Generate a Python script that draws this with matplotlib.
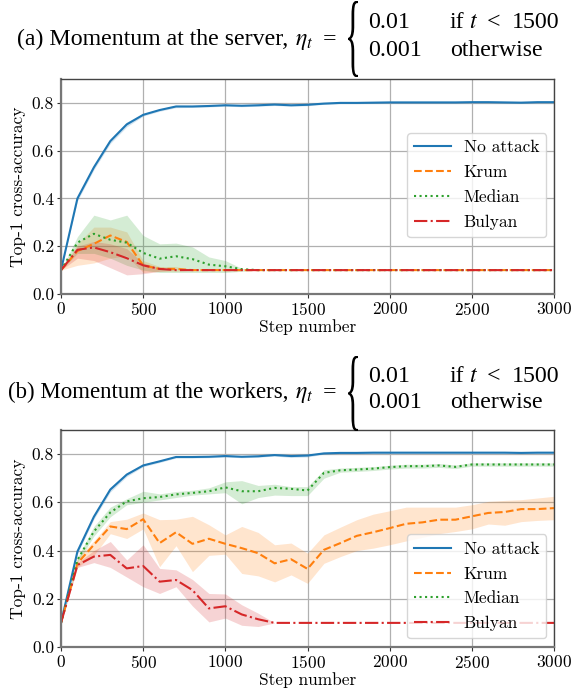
import numpy as np
import matplotlib
matplotlib.use('Agg')
import matplotlib.pyplot as plt
from matplotlib.textpath import TextPath
from matplotlib.patches import PathPatch
from matplotlib.font_manager import FontProperties
from matplotlib.transforms import Affine2D, IdentityTransform

# step numbers (x axis), one point every 100 steps
steps = [0, 100, 200, 300, 400, 500, 600, 700, 800, 900, 1000,
         1100, 1200, 1300, 1400, 1500, 1600, 1700, 1800, 1900, 2000,
         2100, 2200, 2300, 2400, 2500, 2600, 2700, 2800, 2900, 3000]

labels = ['No attack', 'Krum', 'Median', 'Bulyan']

# ---- (a) momentum at the server ----
a_noattack = [0.10, 0.40, 0.53, 0.64, 0.71, 0.75, 0.77, 0.785, 0.785, 0.787, 0.79,
              0.788, 0.79, 0.793, 0.79, 0.792, 0.797, 0.80, 0.80, 0.801, 0.802,
              0.802, 0.802, 0.802, 0.802, 0.803, 0.803, 0.802, 0.801, 0.803, 0.803]
a_noattack_lo = [0.10, 0.39, 0.52, 0.63, 0.70, 0.745, 0.765, 0.78, 0.781, 0.783, 0.786,
                 0.784, 0.786, 0.789, 0.786, 0.788, 0.794, 0.797, 0.797, 0.798, 0.799,
                 0.799, 0.799, 0.799, 0.799, 0.800, 0.800, 0.799, 0.798, 0.800, 0.800]
a_noattack_hi = [0.10, 0.41, 0.54, 0.65, 0.72, 0.755, 0.775, 0.79, 0.789, 0.791, 0.794,
                 0.792, 0.794, 0.797, 0.794, 0.796, 0.800, 0.803, 0.803, 0.804, 0.805,
                 0.805, 0.805, 0.805, 0.805, 0.806, 0.806, 0.805, 0.804, 0.806, 0.806]

a_krum = [0.10, 0.18, 0.21, 0.245, 0.218, 0.12, 0.105, 0.105, 0.10, 0.10, 0.10,
          0.10, 0.10, 0.10, 0.10, 0.10, 0.10, 0.10, 0.10, 0.10, 0.10,
          0.10, 0.10, 0.10, 0.10, 0.10, 0.10, 0.10, 0.10, 0.10, 0.10]
a_krum_lo = [0.10, 0.12, 0.13, 0.15, 0.16, 0.09, 0.095, 0.095, 0.10, 0.10, 0.10,
             0.10, 0.10, 0.10, 0.10, 0.10, 0.10, 0.10, 0.10, 0.10, 0.10,
             0.10, 0.10, 0.10, 0.10, 0.10, 0.10, 0.10, 0.10, 0.10, 0.10]
a_krum_hi = [0.10, 0.21, 0.28, 0.28, 0.26, 0.14, 0.115, 0.115, 0.10, 0.10, 0.10,
             0.10, 0.10, 0.10, 0.10, 0.10, 0.10, 0.10, 0.10, 0.10, 0.10,
             0.10, 0.10, 0.10, 0.10, 0.10, 0.10, 0.10, 0.10, 0.10, 0.10]

a_median = [0.10, 0.215, 0.252, 0.227, 0.215, 0.172, 0.148, 0.158, 0.146, 0.123, 0.116,
            0.104, 0.10, 0.10, 0.10, 0.10, 0.10, 0.10, 0.10, 0.10, 0.10,
            0.10, 0.10, 0.10, 0.10, 0.10, 0.10, 0.10, 0.10, 0.10, 0.10]
a_median_lo = [0.10, 0.17, 0.17, 0.15, 0.12, 0.10, 0.09, 0.09, 0.09, 0.09, 0.09,
               0.095, 0.10, 0.10, 0.10, 0.10, 0.10, 0.10, 0.10, 0.10, 0.10,
               0.10, 0.10, 0.10, 0.10, 0.10, 0.10, 0.10, 0.10, 0.10, 0.10]
a_median_hi = [0.10, 0.24, 0.33, 0.31, 0.33, 0.245, 0.21, 0.213, 0.197, 0.155, 0.14,
               0.107, 0.10, 0.10, 0.10, 0.10, 0.10, 0.10, 0.10, 0.10, 0.10,
               0.10, 0.10, 0.10, 0.10, 0.10, 0.10, 0.10, 0.10, 0.10, 0.10]

a_bulyan = [0.10, 0.185, 0.195, 0.175, 0.15, 0.12, 0.105, 0.10, 0.10, 0.10, 0.10,
            0.10, 0.10, 0.10, 0.10, 0.10, 0.10, 0.10, 0.10, 0.10, 0.10,
            0.10, 0.10, 0.10, 0.10, 0.10, 0.10, 0.10, 0.10, 0.10, 0.10]
a_bulyan_lo = [0.10, 0.15, 0.14, 0.11, 0.08, 0.085, 0.095, 0.10, 0.10, 0.10, 0.10,
               0.10, 0.10, 0.10, 0.10, 0.10, 0.10, 0.10, 0.10, 0.10, 0.10,
               0.10, 0.10, 0.10, 0.10, 0.10, 0.10, 0.10, 0.10, 0.10, 0.10]
a_bulyan_hi = [0.10, 0.20, 0.22, 0.21, 0.19, 0.13, 0.11, 0.10, 0.10, 0.10, 0.10,
               0.10, 0.10, 0.10, 0.10, 0.10, 0.10, 0.10, 0.10, 0.10, 0.10,
               0.10, 0.10, 0.10, 0.10, 0.10, 0.10, 0.10, 0.10, 0.10, 0.10]

# ---- (b) momentum at the workers ----
b_noattack = [0.10, 0.396, 0.54, 0.653, 0.715, 0.753, 0.77, 0.788, 0.788, 0.789, 0.792,
              0.789, 0.791, 0.796, 0.792, 0.794, 0.803, 0.805, 0.805, 0.806, 0.806,
              0.806, 0.806, 0.806, 0.806, 0.806, 0.806, 0.806, 0.805, 0.806, 0.806]
b_noattack_lo = [0.10, 0.386, 0.53, 0.643, 0.707, 0.748, 0.765, 0.784, 0.784, 0.785, 0.788,
                 0.785, 0.787, 0.792, 0.786, 0.788, 0.800, 0.802, 0.802, 0.803, 0.803,
                 0.803, 0.803, 0.803, 0.803, 0.803, 0.803, 0.803, 0.802, 0.803, 0.803]
b_noattack_hi = [0.10, 0.406, 0.55, 0.663, 0.723, 0.758, 0.775, 0.792, 0.792, 0.793, 0.796,
                 0.793, 0.795, 0.800, 0.798, 0.800, 0.806, 0.808, 0.808, 0.809, 0.809,
                 0.809, 0.809, 0.809, 0.809, 0.809, 0.809, 0.809, 0.808, 0.809, 0.809]

b_krum = [0.10, 0.347, 0.424, 0.50, 0.489, 0.53, 0.431, 0.476, 0.428, 0.449, 0.428,
          0.41, 0.389, 0.347, 0.364, 0.324, 0.403, 0.431, 0.461, 0.476, 0.493,
          0.511, 0.517, 0.528, 0.528, 0.542, 0.556, 0.56, 0.572, 0.572, 0.576]
b_krum_lo = [0.10, 0.33, 0.38, 0.47, 0.45, 0.49, 0.333, 0.42, 0.3125, 0.38, 0.385,
             0.305, 0.295, 0.27, 0.299, 0.264, 0.347, 0.375, 0.40, 0.41, 0.424,
             0.44, 0.455, 0.47, 0.479, 0.49, 0.51, 0.505, 0.52, 0.525, 0.528]
b_krum_hi = [0.10, 0.37, 0.44, 0.52, 0.53, 0.556, 0.528, 0.53, 0.542, 0.507, 0.465,
             0.50, 0.475, 0.424, 0.431, 0.389, 0.465, 0.497, 0.528, 0.551, 0.565,
             0.58, 0.58, 0.58, 0.58, 0.59, 0.604, 0.608, 0.611, 0.618, 0.625]

b_median = [0.10, 0.361, 0.479, 0.558, 0.604, 0.617, 0.622, 0.633, 0.639, 0.646, 0.662,
            0.646, 0.646, 0.66, 0.656, 0.649, 0.722, 0.733, 0.736, 0.74, 0.746,
            0.75, 0.75, 0.753, 0.747, 0.757, 0.757, 0.757, 0.757, 0.757, 0.757]
b_median_lo = [0.10, 0.35, 0.46, 0.54, 0.59, 0.60, 0.61, 0.62, 0.63, 0.635, 0.64,
               0.594, 0.62, 0.63, 0.628, 0.628, 0.70, 0.725, 0.728, 0.732, 0.738,
               0.742, 0.742, 0.745, 0.74, 0.75, 0.75, 0.75, 0.75, 0.75, 0.75]
b_median_hi = [0.10, 0.37, 0.50, 0.58, 0.615, 0.646, 0.635, 0.645, 0.65, 0.66, 0.685,
               0.69, 0.67, 0.675, 0.665, 0.665, 0.735, 0.742, 0.745, 0.748, 0.754,
               0.758, 0.758, 0.761, 0.755, 0.764, 0.764, 0.764, 0.764, 0.764, 0.764]

b_bulyan = [0.10, 0.34, 0.375, 0.382, 0.326, 0.336, 0.271, 0.278, 0.236, 0.16, 0.169,
            0.135, 0.115, 0.10, 0.10, 0.10, 0.10, 0.10, 0.10, 0.10, 0.10,
            0.10, 0.10, 0.10, 0.10, 0.10, 0.10, 0.10, 0.10, 0.10, 0.10]
b_bulyan_lo = [0.10, 0.33, 0.35, 0.33, 0.29, 0.25, 0.222, 0.25, 0.17, 0.104, 0.12,
               0.09, 0.085, 0.10, 0.10, 0.10, 0.10, 0.10, 0.10, 0.10, 0.10,
               0.10, 0.10, 0.10, 0.10, 0.10, 0.10, 0.10, 0.10, 0.10, 0.10]
b_bulyan_hi = [0.10, 0.35, 0.40, 0.4375, 0.361, 0.424, 0.326, 0.32, 0.28, 0.222, 0.22,
               0.175, 0.14, 0.10, 0.10, 0.10, 0.10, 0.10, 0.10, 0.10, 0.10,
               0.10, 0.10, 0.10, 0.10, 0.10, 0.10, 0.10, 0.10, 0.10, 0.10]

colors = ['#1f77b4', '#ff7f0e', '#2ca02c', '#d62728']
styles = ['-', '--', ':', '-.']

plt.rcParams['font.family'] = 'cmr10'
plt.rcParams['axes.formatter.use_mathtext'] = True
plt.rcParams['mathtext.fontset'] = 'cm'

W, H = 573, 691
FS = 12.5
fig = plt.figure(figsize=(W / 100, H / 100), dpi=100)


def px_axes(left, top, right, bottom):
    # axes rectangle from pixel edges (origin top-left)
    return fig.add_axes([left / W, 1 - bottom / H, (right - left) / W, (bottom - top) / H])


def draw_panel(ax, series, legend_anchor):
    for (mean, lo, hi), lab, c, ls in zip(series, labels, colors, styles):
        ax.fill_between(steps, lo, hi, color=c, alpha=0.2, linewidth=0)
        ax.plot(steps, mean, color=c, linestyle=ls, linewidth=1.5, label=lab)
    ax.set_xlim(0, 3000)
    ax.set_ylim(0, 0.9)
    ax.set_xticks([0, 500, 1000, 1500, 2000, 2500, 3000])
    ax.set_yticks([0.0, 0.2, 0.4, 0.6, 0.8])
    ax.set_yticklabels(['0.0', '0.2', '0.4', '0.6', '0.8'])
    ax.grid(True, color='#b0b0b0', linewidth=0.9)
    ax.set_axisbelow(True)
    ax.tick_params(labelsize=FS, direction='out', length=3, color='#333333', pad=2)
    for side in ['top', 'right']:
        ax.spines[side].set_color('#444444')
        ax.spines[side].set_linewidth(1.0)
    for side in ['left', 'bottom']:
        ax.spines[side].set_color('#777777')
        ax.spines[side].set_linewidth(1.6)
    ax.set_xlabel('Step number', fontsize=FS, labelpad=1)
    ax.set_ylabel('Top-1 cross-accuracy', fontsize=FS, labelpad=4)
    ax.legend(loc='lower right', bbox_to_anchor=legend_anchor, borderaxespad=0,
              fontsize=FS, handlelength=2.1, handletextpad=0.75, labelspacing=0.55,
              framealpha=0.8, edgecolor='#cccccc')


ax1 = px_axes(61, 79, 554, 294)
draw_panel(ax1, [(a_noattack, a_noattack_lo, a_noattack_hi),
                 (a_krum, a_krum_lo, a_krum_hi),
                 (a_median, a_median_lo, a_median_hi),
                 (a_bulyan, a_bulyan_lo, a_bulyan_hi)], (0.984, 0.265))

ax2 = px_axes(61, 430, 554, 647)
draw_panel(ax2, [(b_noattack, b_noattack_lo, b_noattack_hi),
                 (b_krum, b_krum_lo, b_krum_hi),
                 (b_median, b_median_lo, b_median_hi),
                 (b_bulyan, b_bulyan_lo, b_bulyan_hi)], (0.984, 0.04))

# ---- titles with the piecewise learning rate ----
tfont = dict(family='Liberation Serif', size=17.2, math_fontfamily='stix')


def put(x, y, s, ha='left', size=17.2):
    kw = dict(tfont)
    kw['size'] = size
    fig.text(x / W, 1 - y / H, s, ha=ha, va='baseline', **kw)


def brace(x0, y_top, y_bot, width):
    tp = TextPath((0, 0), '{', size=100, prop=FontProperties(family='Liberation Serif'))
    ext = tp.get_extents()
    sx = width / ext.width
    sy = (y_bot - y_top) / ext.height
    tr = Affine2D().translate(-ext.x0, -ext.y0).scale(sx, sy).translate(x0, H - y_bot)
    patch = PathPatch(tr.transform_path(tp), facecolor='black', edgecolor='none',
                      transform=IdentityTransform())
    fig.add_artist(patch)


def title(text, size, base, row1, row2, y_top, y_bot):
    put(288, base, text + ',', ha='right', size=size)
    put(295, base, r'$\eta_t$')
    put(323, base, '=')
    brace(348, y_top, y_bot, 10)
    put(368, row1, '0.01')
    put(450, row1, 'if')
    put(469, row1, r'$t$')
    put(487, row1, '<')
    put(512, row1, '1500')
    put(368, row2, '0.001')
    put(450, row2, 'otherwise')


title('(a) Momentum at the server', 17.2, 45, 28, 56, 1, 77)
title('(b) Momentum at the workers', 16.5, 398, 382, 408, 356, 431)

fig.savefig('out.png', dpi=100)
